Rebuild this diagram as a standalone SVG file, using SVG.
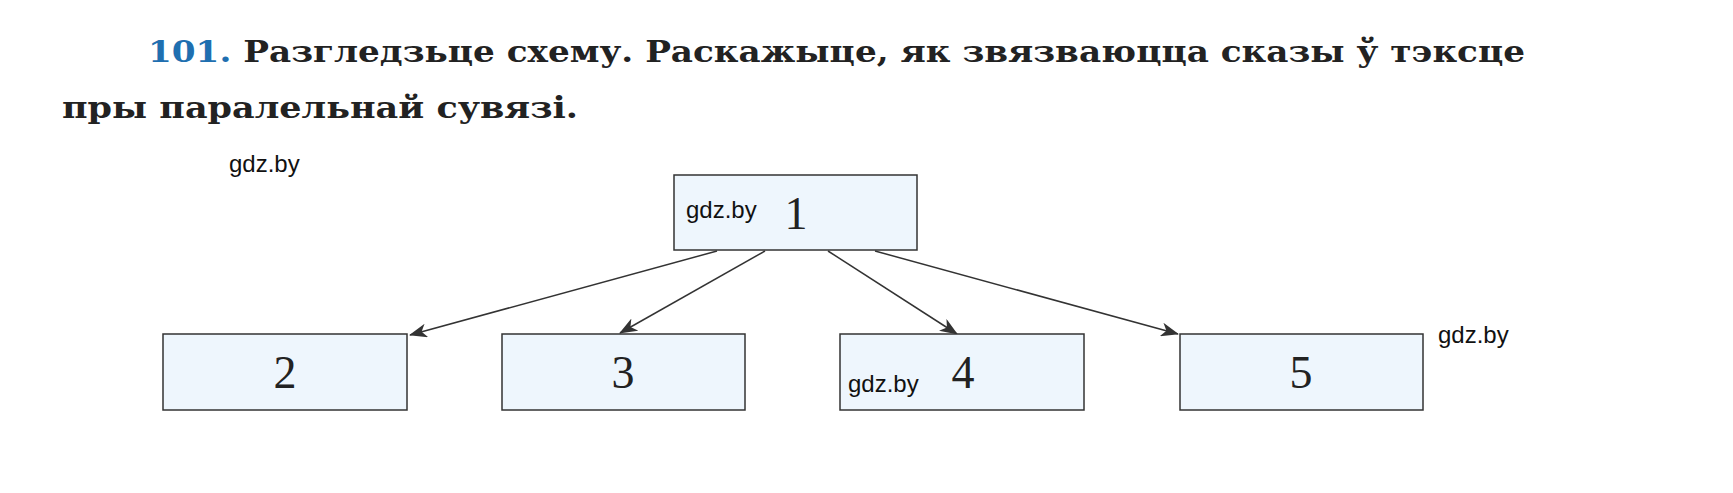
<svg xmlns="http://www.w3.org/2000/svg" width="1733" height="493" viewBox="0 0 1733 493">
<style>
.t{font-family:"DejaVu Serif","Liberation Serif",serif;font-size:30px;fill:#222;font-weight:bold}
.box{fill:#eef6fd;stroke:#333;stroke-width:1.5}
.n{font-family:"Liberation Serif",serif;font-size:46px;fill:#222;text-anchor:middle}
.w{font-family:"Liberation Sans",Arial,sans-serif;font-size:24px;fill:#111}
.c{stroke:#333;stroke-width:1.5;fill:none;marker-end:url(#a)}
</style>
<defs><marker id="a" viewBox="0 0 18 14" refX="17" refY="7" markerWidth="18" markerHeight="14" markerUnits="userSpaceOnUse" orient="auto"><path d="M0,0 L18,7 L0,14 L5,7 Z" fill="#333"/></marker></defs>
<rect width="1733" height="493" fill="#fff"/>
<text class="t" x="148" y="62" textLength="1377" lengthAdjust="spacingAndGlyphs"><tspan fill="#1f6fb0">101.</tspan> Разгледзьце схему. Раскажыце, як звязваюцца сказы ў тэксце</text>
<text class="t" x="62" y="118" textLength="516" lengthAdjust="spacingAndGlyphs">пры паралельнай сувязі.</text>
<text class="w" x="229" y="172">gdz.by</text>
<text class="w" x="1438" y="343">gdz.by</text>
<g id="connectors">
<line class="c" x1="717" y1="251" x2="410" y2="335"/>
<line class="c" x1="765" y1="251" x2="620" y2="333"/>
<line class="c" x1="828" y1="251" x2="957" y2="334"/>
<line class="c" x1="875" y1="251" x2="1178" y2="334"/>
</g>
<g id="n1"><rect class="box" x="674" y="175" width="243" height="75"/><text class="n" x="796" y="229">1</text><text class="w" x="686" y="218">gdz.by</text></g>
<g id="n2"><rect class="box" x="163" y="334" width="244" height="76"/><text class="n" x="285" y="388">2</text></g>
<g id="n3"><rect class="box" x="502" y="334" width="243" height="76"/><text class="n" x="623" y="388">3</text></g>
<g id="n4"><rect class="box" x="840" y="334" width="244" height="76"/><text class="n" x="963" y="388">4</text><text class="w" x="848" y="392">gdz.by</text></g>
<g id="n5"><rect class="box" x="1180" y="334" width="243" height="76"/><text class="n" x="1301" y="388">5</text></g>
</svg>
